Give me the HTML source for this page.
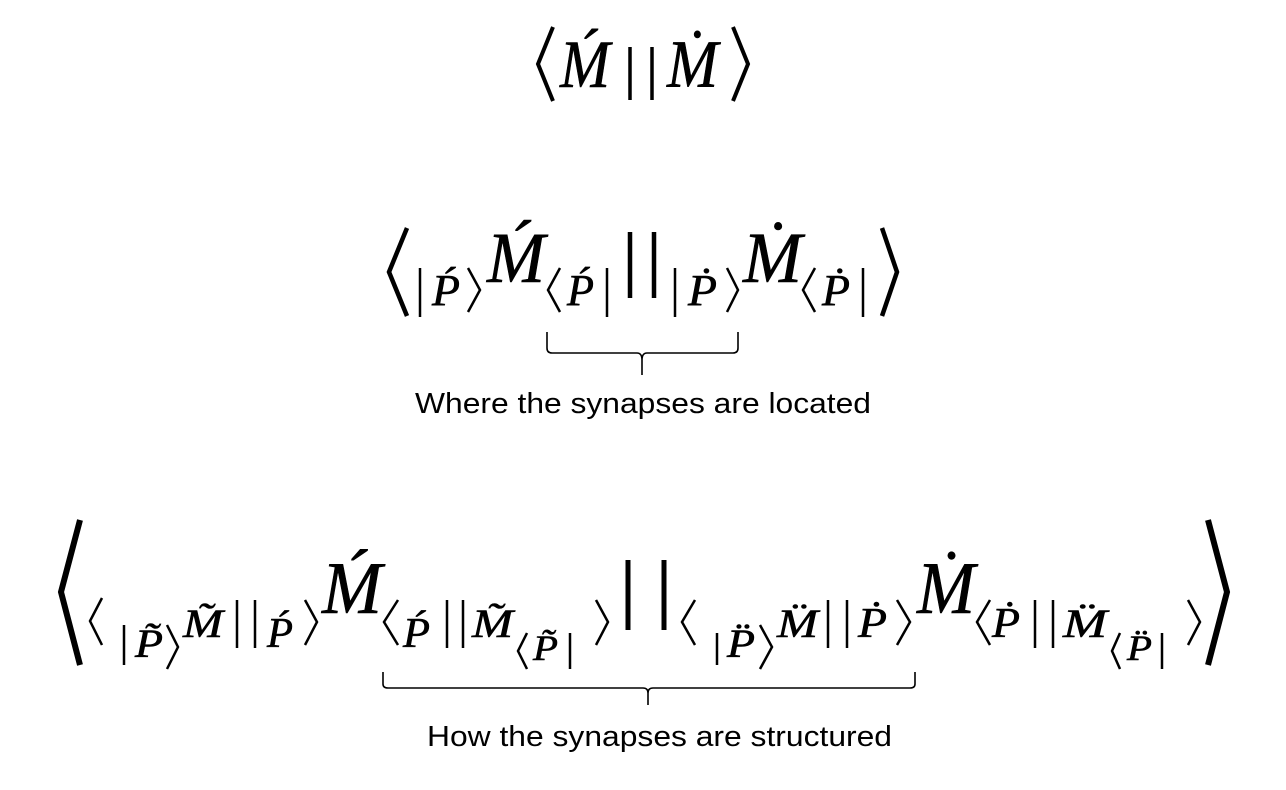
<!DOCTYPE html>
<html><head><meta charset="utf-8"><style>
html,body{margin:0;padding:0;background:#fff;width:1286px;height:790px;overflow:hidden}
svg{display:block}
.m{font-family:"Liberation Serif","DejaVu Serif",serif;font-style:italic;fill:#000;stroke:#000;stroke-width:0.6}
.t{font-family:"Liberation Sans",Arial,sans-serif;fill:#000;font-size:29px}
</style></head><body>
<svg width="1286" height="790" viewBox="0 0 1286 790" xmlns="http://www.w3.org/2000/svg">
<g fill="none" stroke="#000" stroke-linejoin="miter">
<!-- line 1 -->
<path d="M553,27 L538,64 L553,101" stroke-width="4"/>
<path d="M733,27 L748,64 L733,101" stroke-width="4"/>
<path d="M630,47 V100 M652,47 V100" stroke-width="3.5"/>
<!-- line 2 -->
<path d="M407,228 L389,272 L407,316" stroke-width="4.5"/>
<path d="M882,228 L897,272 L882,316" stroke-width="4.5"/>
<g stroke-width="2.5">
<path d="M420,268 V317"/>
<path d="M468,268 L480,290 L468,312"/>
<path d="M560,268 L548,290 L560,312"/>
<path d="M607,268 V317"/>
<path d="M675,268 V317"/>
<path d="M727,268 L738,290 L727,312"/>
<path d="M815,268 L803,290 L815,312"/>
<path d="M863,268 V317"/>
</g>
<path d="M630,232 V298 M654,232 V298" stroke-width="4.5"/>
<path d="M547,332 V348 Q547,353 552,353 H637 Q642,353 642,360 V375 M642,360 Q642,353 647,353 H733 Q738,353 738,348 V332" stroke-width="1.6"/>
<!-- line 3 -->
<path d="M80,520 L61,592 L80,665" stroke-width="6"/>
<path d="M1208,520 L1227,592 L1208,665" stroke-width="6"/>
<g stroke-width="2.5">
<path d="M102,598 L90,621 L102,645"/>
<path d="M124,625 V665"/>
<path d="M167,625 L178,647 L167,669"/>
<path d="M237,600 V648 M255,600 V648"/>
<path d="M305,600 L317,622 L305,645"/>
<path d="M398,600 L384,622 L398,645"/>
<path d="M447,600 V648 M463,600 V648"/>
<path d="M527,633 L518,651 L527,669"/>
<path d="M570,633 V669"/>
<path d="M596,600 L608,622 L596,645"/>
<path d="M695,600 L682,622 L695,645"/>
<path d="M717,633 V665"/>
<path d="M760,625 L772,647 L760,669"/>
<path d="M828,600 V648 M847,600 V648"/>
<path d="M897,600 L910,622 L897,645"/>
<path d="M990,600 L977,622 L990,645"/>
<path d="M1035,600 V648 M1053,600 V648"/>
<path d="M1120,633 L1112,651 L1120,669"/>
<path d="M1162,633 V669"/>
<path d="M1188,600 L1200,622 L1188,645"/>
</g>
<path d="M628,560 V630 M664,560 V630" stroke-width="5"/>
<path d="M383,672 V684 Q383,688 388,688 H643 Q648,688 648,693 V705 M648,693 Q648,688 653,688 H910 Q915,688 915,684 V672" stroke-width="1.6"/>
</g>
<!-- letters -->
<g class="m">
<text x="560" y="87" font-size="68" textLength="50" lengthAdjust="spacingAndGlyphs">Ḿ</text>
<text x="667" y="87" font-size="68" textLength="51" lengthAdjust="spacingAndGlyphs">Ṁ</text>

<text x="432" y="305" font-size="44" textLength="28" lengthAdjust="spacingAndGlyphs">Ṕ</text>
<text x="487" y="282" font-size="72" textLength="58" lengthAdjust="spacingAndGlyphs">Ḿ</text>
<text x="567" y="305" font-size="44" textLength="27" lengthAdjust="spacingAndGlyphs">Ṕ</text>
<text x="688" y="305" font-size="44" textLength="29" lengthAdjust="spacingAndGlyphs">Ṗ</text>
<text x="743" y="282" font-size="72" textLength="59" lengthAdjust="spacingAndGlyphs">Ṁ</text>
<text x="822" y="305" font-size="44" textLength="28" lengthAdjust="spacingAndGlyphs">Ṗ</text>

<text x="135" y="657" font-size="40" textLength="28" lengthAdjust="spacingAndGlyphs">P̃</text>
<text x="183" y="637" font-size="40" textLength="40" lengthAdjust="spacingAndGlyphs">M̃</text>
<text x="267" y="647" font-size="42" textLength="26" lengthAdjust="spacingAndGlyphs">Ṕ</text>
<text x="322" y="613" font-size="74" textLength="60" lengthAdjust="spacingAndGlyphs">Ḿ</text>
<text x="403" y="647" font-size="42" textLength="27" lengthAdjust="spacingAndGlyphs">Ṕ</text>
<text x="472" y="637" font-size="40" textLength="41" lengthAdjust="spacingAndGlyphs">M̃</text>
<text x="533" y="660" font-size="36" textLength="25" lengthAdjust="spacingAndGlyphs">P̃</text>
<text x="727" y="657" font-size="40" textLength="28" lengthAdjust="spacingAndGlyphs">P̈</text>
<text x="777" y="637" font-size="40" textLength="41" lengthAdjust="spacingAndGlyphs">M̈</text>
<text x="858" y="637" font-size="42" textLength="29" lengthAdjust="spacingAndGlyphs">Ṗ</text>
<text x="917" y="613" font-size="74" textLength="58" lengthAdjust="spacingAndGlyphs">Ṁ</text>
<text x="992" y="637" font-size="42" textLength="28" lengthAdjust="spacingAndGlyphs">Ṗ</text>
<text x="1063" y="637" font-size="40" textLength="44" lengthAdjust="spacingAndGlyphs">M̈</text>
<text x="1127" y="660" font-size="36" textLength="25" lengthAdjust="spacingAndGlyphs">P̈</text>
</g>
<text class="t" x="415" y="413" textLength="456" lengthAdjust="spacingAndGlyphs">Where the synapses are located</text>
<text class="t" x="427" y="746" textLength="465" lengthAdjust="spacingAndGlyphs">How the synapses are structured</text>
</svg>
</body></html>
